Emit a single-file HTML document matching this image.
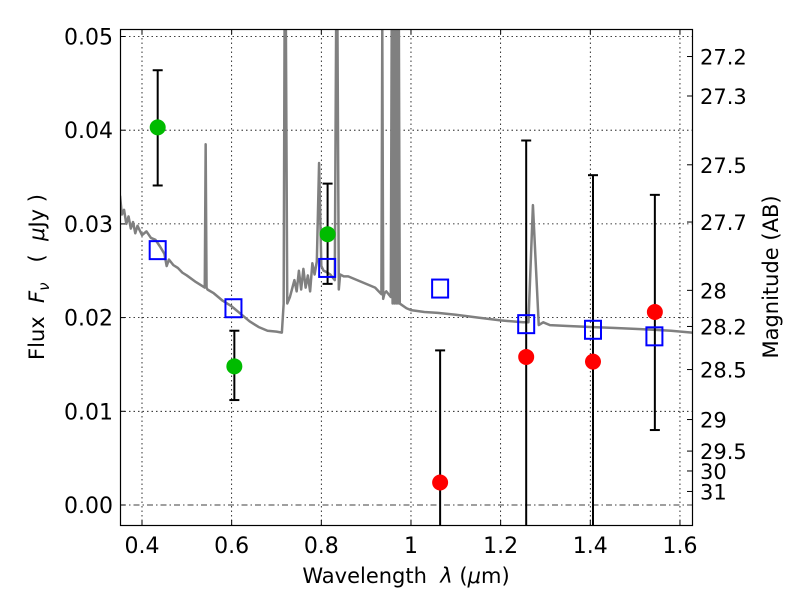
<!DOCTYPE html>
<html><head><meta charset="utf-8"><style>
body{margin:0;background:#fff}
svg text{font-family:"DejaVu Sans","Liberation Sans",sans-serif;fill:#000;white-space:pre}
</style></head><body>
<svg id="chart" width="800" height="600" xmlns="http://www.w3.org/2000/svg">
<rect x="0" y="0" width="800" height="600" fill="#fff"/>
<g id="grid"></g>
<g id="plot"></g>
<rect x="120.5" y="29.5" width="572" height="496" fill="none" stroke="#000" stroke-width="1.2"/>
<g id="axes"></g>
<text x="406" y="583" font-size="21" text-anchor="middle" xml:space="preserve">Wavelength  <tspan font-style="italic">λ</tspan> (<tspan font-style="italic">μ</tspan>m)</text>
<text transform="translate(44,277) rotate(-90)" font-size="21" text-anchor="middle" xml:space="preserve">Flux  <tspan font-style="italic">F</tspan><tspan font-style="italic" font-size="15" dy="5">ν</tspan><tspan dy="-5">   (  </tspan><tspan font-style="italic">μ</tspan>Jy )</text>
<text transform="translate(778,277) rotate(-90)" font-size="21" text-anchor="middle">Magnitude (AB)</text>
</svg>
<script>
const xTicks=[0.4,0.6,0.8,1.0,1.2,1.4,1.6];
const xTickLabels=["0.4","0.6","0.8","1","1.2","1.4","1.6"];
const yTicks=[0,0.01,0.02,0.03,0.04,0.05];
const yTickLabels=["0.00","0.01","0.02","0.03","0.04","0.05"];
const magTicks=[27.2,27.3,27.5,27.7,28,28.2,28.5,29,29.5,30,31];
const magLabels=["27.2","27.3","27.5","27.7","28","28.2","28.5","29","29.5","30","31"];
const greenX=[0.435,0.606,0.814];
const greenY=[0.0403,0.0148,0.0289];
const greenLo=[0.0341,0.0112,0.0236];
const greenHi=[0.0464,0.0186,0.0343];
const redX=[1.065,1.257,1.406,1.544];
const redY=[0.0024,0.0158,0.0153,0.0206];
const redLo=[-0.01,-0.01,-0.01,0.0080];
const redHi=[0.0165,0.0389,0.0352,0.0331];
const modelX=[0.435,0.604,0.813,1.065,1.257,1.406,1.543];
const modelY=[0.0272,0.0210,0.0253,0.0231,0.0193,0.0187,0.0180];
const specX=[0.351,0.355,0.36,0.365,0.37,0.375,0.38,0.385,0.39,0.40,0.41,0.42,0.43,0.44,0.45,0.455,0.46,0.47,0.48,0.49,0.50,0.52,0.54,0.542,0.544,0.546,0.56,0.58,0.60,0.62,0.64,0.66,0.68,0.70,0.712,0.716,0.718,0.721,0.724,0.73,0.74,0.745,0.75,0.755,0.76,0.765,0.77,0.775,0.78,0.785,0.79,0.795,0.80,0.805,0.81,0.82,0.83,0.833,0.836,0.839,0.842,0.85,0.86,0.88,0.90,0.92,0.934,0.936,0.938,0.941,0.945,0.955,0.957,0.959,0.961,0.963,0.965,0.967,0.969,0.971,0.973,0.975,0.99,1.0,1.03,1.06,1.1,1.15,1.2,1.25,1.262,1.272,1.285,1.295,1.31,1.35,1.4,1.45,1.5,1.54,1.58,1.627];
const specY=[0.033,0.031,0.0315,0.030,0.0308,0.0295,0.0302,0.029,0.0298,0.0288,0.0292,0.0285,0.0283,0.0276,0.0268,0.0255,0.0262,0.0256,0.0253,0.0248,0.0245,0.0238,0.0232,0.0385,0.0232,0.0230,0.0226,0.0218,0.0212,0.0204,0.0196,0.0190,0.0186,0.0185,0.0184,0.0215,0.0508,0.0508,0.0215,0.0222,0.0240,0.0228,0.0250,0.0230,0.0252,0.0232,0.0245,0.0228,0.0258,0.0246,0.0260,0.0365,0.0255,0.0250,0.0249,0.0246,0.0240,0.0508,0.0508,0.0230,0.0246,0.0244,0.0244,0.0240,0.0236,0.0232,0.0225,0.0508,0.0220,0.0226,0.0228,0.0222,0.0508,0.0215,0.0508,0.0215,0.0508,0.0215,0.0508,0.0215,0.0508,0.0215,0.0210,0.0208,0.0206,0.0205,0.0203,0.0200,0.0197,0.0195,0.0195,0.0320,0.0192,0.0195,0.0192,0.0191,0.0190,0.0189,0.0188,0.0187,0.0186,0.0184];

const X0=120,X1=692,Y0=29,Y1=525;
const xs=v=>142+(v-0.4)*448.3;
const ys=v=>505-v*9370;
const NS="http://www.w3.org/2000/svg";
function mk(tag,attrs,parent){const e=document.createElementNS(NS,tag);for(const k in attrs)e.setAttribute(k,attrs[k]);parent.appendChild(e);return e;}
const grid=document.getElementById('grid'),plot=document.getElementById('plot'),axes=document.getElementById('axes');

xTicks.forEach((t,i)=>{const x=xs(t);
 const g=mk('line',{x1:x,x2:x,y1:Y0,y2:Y1,stroke:'#000','stroke-width':0.8,'stroke-dasharray':'1.5,3'},grid);
 
 
 mk('line',{x1:x,x2:x,y1:Y1,y2:Y1-5,stroke:'#000'},axes);
 mk('line',{x1:x,x2:x,y1:Y0,y2:Y0+5,stroke:'#000'},axes);
 const tx=mk('text',{x:x,y:Y1+28,'font-size':22,'text-anchor':'middle'},axes);tx.textContent=xTickLabels[i];
 
 
});
yTicks.forEach((t,i)=>{const y=ys(t);
 const g=mk('line',{x1:X0,x2:X1,y1:y,y2:y,stroke:'#000','stroke-width':0.8,'stroke-dasharray':t===0?'6,3,1.5,3':'1.5,3'},grid);
 
 
 mk('line',{x1:X0,x2:X0+5,y1:y,y2:y,stroke:'#000'},axes);
 const tx=mk('text',{x:X0-7,y:y+8,'font-size':22,'text-anchor':'end'},axes);tx.textContent=yTickLabels[i];
 
 
});
magTicks.forEach((m,i)=>{const f=Math.pow(10,(23.9-m)/2.5);const y=ys(f);
 mk('line',{x1:X1,x2:X1-5,y1:y,y2:y,stroke:'#000'},axes);
 const tx=mk('text',{x:X1+8,y:y+8,'font-size':21},axes);tx.textContent=magLabels[i];
 
 
});
const clip=mk('clipPath',{id:'pc'},plot);mk('rect',{x:X0,y:Y0,width:X1-X0,height:Y1-Y0},clip);
const pg=mk('g',{'clip-path':'url(#pc)'},plot);
const sp=mk('polyline',{points:specX.map((v,i)=>xs(v)+','+ys(specY[i])).join(' '),fill:'none',stroke:'#808080','stroke-width':2.5,'stroke-linejoin':'round'},pg);


function err(x,lo,hi){const X=xs(x);
 mk('line',{x1:X,x2:X,y1:ys(lo),y2:ys(hi),stroke:'#000','stroke-width':2},pg);
 mk('line',{x1:X-5,x2:X+5,y1:ys(hi),y2:ys(hi),stroke:'#000','stroke-width':2},pg);
 mk('line',{x1:X-5,x2:X+5,y1:ys(lo),y2:ys(lo),stroke:'#000','stroke-width':2},pg);}
greenX.forEach((x,i)=>err(x,greenLo[i],greenHi[i]));
redX.forEach((x,i)=>err(x,redLo[i],redHi[i]));
modelX.forEach((x,i)=>{const r=mk('rect',{x:xs(x)-8,y:ys(modelY[i])-9,width:16,height:18,fill:'none',stroke:'#0000ff','stroke-width':2},pg);
 
 });
greenX.forEach((x,i)=>{const c=mk('circle',{cx:xs(x),cy:ys(greenY[i]),r:8,fill:'#00bb00'},pg);
 
 });
redX.forEach((x,i)=>{const c=mk('circle',{cx:xs(x),cy:ys(redY[i]),r:8,fill:'#ff0000'},pg);
 
 });
</script>
</body></html>
